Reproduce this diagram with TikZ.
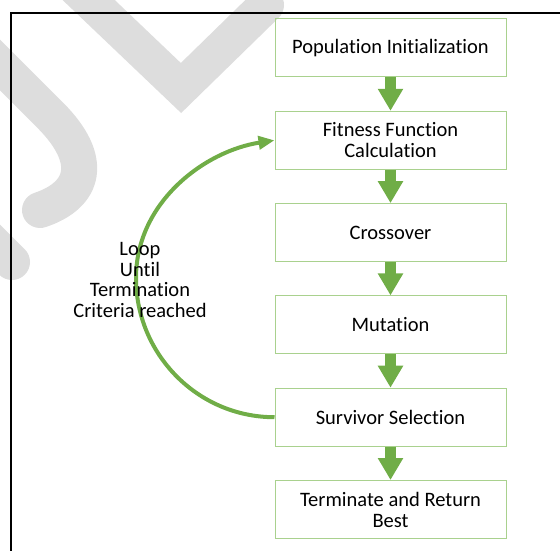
\documentclass[tikz,border=0pt]{standalone}
\usepackage{fontspec}
\setmainfont{Carlito}[Ligatures=NoCommon]
\usetikzlibrary{positioning,arrows.meta}
\definecolor{gagreen}{RGB}{112,173,71}
\definecolor{galight}{RGB}{169,209,142}
\definecolor{wmgray}{RGB}{221,221,221}

\begin{document}
\begin{tikzpicture}[x=1pt, y=-1pt,
    stage/.style={draw=galight, line width=1pt, minimum width=231pt,
                  minimum height=58pt, align=center, inner sep=2pt,
                  font=\fontsize{20.5}{21}\selectfont},
    downarrow/.style={gagreen, line width=11pt,
                      -{Triangle[width=24pt, length=22pt]}},
    loopback/.style={gagreen, line width=4pt,
                     -{Triangle[width=13pt, length=16pt]}},
    wm/.style={wmgray, line width=36pt, line cap=round}]
    \useasboundingbox (0,0) rectangle (560,551);

    % Watermark strokes
    \draw[wm] (75,-13) -- (181,88) -- (266,5);
    \draw[wm] (-20,45) -- (50,115) .. controls (95,160) and (85,195) .. (40,210);
    \draw[wm] (-25,225) -- (12,262);

    % Frame
    \draw[line width=1.6pt] (11,551) -- (11,13) -- (560,13);

    % Stages
    \node[stage] (init) at (390.5,48) {Population Initialization};
    \node[stage, below=33.3pt of init] (fit) {Fitness Function\\Calculation};
    \node[stage, below=33.3pt of fit] (cross) {Crossover};
    \node[stage, below=33.3pt of cross] (mut) {Mutation};
    \node[stage, below=33.3pt of mut] (surv) {Survivor Selection};
    \node[stage, below=33.3pt of surv] (term) {Terminate and Return\\Best};

    % Arrows between stages
    \foreach \a/\b in {init/fit, fit/cross, cross/mut, mut/surv, surv/term}
        \draw[downarrow] (\a) -- (\b);

    % Loop back
    \coordinate (bend) at (136,278);
    \draw[loopback] (surv.west) .. controls +(-77,0) and +(0,76) .. (bend)
                    .. controls +(0,-76) and (205,151) .. (fit.west);
    \node[align=center, font=\fontsize{20.5}{20.5}\selectfont] (note) at (140,280)
        {Loop\\Until\\Termination\\Criteria reached};
\end{tikzpicture}
\end{document}
